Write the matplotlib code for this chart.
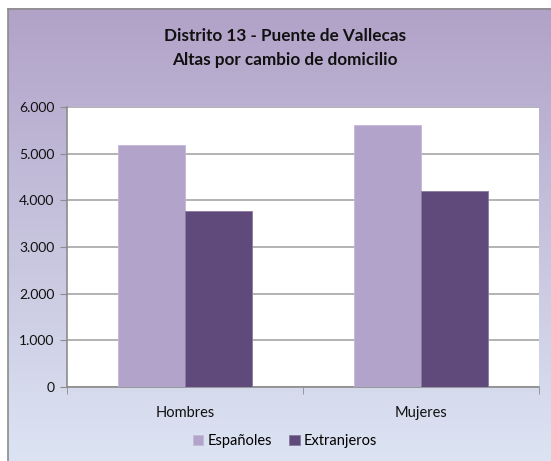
import matplotlib.pyplot as plt
import numpy as np
from matplotlib.ticker import FuncFormatter

categories = ['Hombres', 'Mujeres']
espanoles = [5180, 5610]
extranjeros = [3770, 4190]
series_names = ['Españoles', 'Extranjeros']
colors = ['#B1A3C9', '#604A7B']

plt.rcParams['font.family'] = ['Lato', 'DejaVu Sans']

fig = plt.figure(figsize=(5.51, 4.61), dpi=100)

# background gradient of the chart area
bg = fig.add_axes([0, 0, 1, 1], zorder=-10)
bg.set_xlim(0, 551)
bg.set_ylim(461, 0)
bg.axis('off')
top = np.array([0xB1, 0xA2, 0xC8]) / 255
bot = np.array([0xDC, 0xE4, 0xF3]) / 255
t = np.linspace(0, 1, 256)[:, None]
grad = (top[None, :] * (1 - t) + bot[None, :] * t)[:, None, :]
bg.imshow(grad, extent=[8, 551, 461, 9], aspect='auto')
bg.plot([8, 551], [9, 9], color='#8c8c8c', lw=1.2)
bg.plot([8, 8], [9, 461], color='#8c8c8c', lw=1.2)

fig.text(285 / 551, 1 - 36 / 461, 'Distrito 13 - Puente de Vallecas',
         ha='center', va='center', fontsize=12.3, fontweight='bold', color='#111111')
fig.text(285 / 551, 1 - 60 / 461, 'Altas por cambio de domicilio',
         ha='center', va='center', fontsize=12.3, fontweight='bold', color='#111111')

ax = fig.add_axes([67 / 551, 1 - 387 / 461, 472 / 551, 280 / 461])
x = np.arange(len(categories))
w = 0.286
ax.bar(x - w / 2, espanoles, w, color=colors[0], edgecolor='#C4B8D8', lw=0.6,
       label=series_names[0], zorder=3)
ax.bar(x + w / 2, extranjeros, w, color=colors[1], edgecolor='#8A7AA0', lw=0.6,
       label=series_names[1], zorder=3)

ax.set_xlim(-0.5, 1.5)
ax.set_ylim(0, 6000)
ax.set_yticks(range(0, 6001, 1000))
ax.yaxis.set_major_formatter(FuncFormatter(lambda v, p: f'{int(v):,}'.replace(',', '.')))
ax.grid(axis='y', color='#a6a6a6', lw=1.2, zorder=0)
ax.set_facecolor('white')
for s in ['top', 'right']:
    ax.spines[s].set_visible(False)
ax.spines['left'].set_color('#8c8c8c')
ax.spines['bottom'].set_color('#8c8c8c')
ax.spines['left'].set_linewidth(1.2)
ax.spines['bottom'].set_linewidth(1.2)

ax.set_xticks(x)
ax.set_xticklabels(categories)
ax.set_xticks([-0.5, 0.5, 1.5], minor=True)
ax.tick_params(axis='x', which='major', length=0, pad=14, labelsize=10.5, labelcolor='#111111')
ax.tick_params(axis='x', which='minor', length=5, color='#8c8c8c', direction='out')
ax.tick_params(axis='y', length=5, color='#8c8c8c', labelsize=10, labelcolor='#111111', pad=4)

ax.legend(loc='center', bbox_to_anchor=(285 / 551, 1 - 441 / 461),
          bbox_transform=fig.transFigure, ncol=2, frameon=False, fontsize=10.5,
          handlelength=0.7, handleheight=0.7, handletextpad=0.3, columnspacing=1.2)

fig.savefig('out.png', dpi=100)
